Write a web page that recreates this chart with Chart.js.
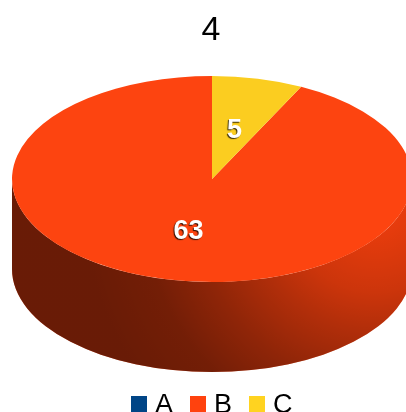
<!DOCTYPE html>
<html>
<head>
<meta charset="utf-8">
<title>4</title>
<script src="https://cdn.jsdelivr.net/npm/chart.js@4/dist/chart.umd.js"></script>
<style>
html, body { margin: 0; padding: 0; background: #fff; overflow: hidden; }
canvas { display: block; }
</style>
</head>
<body>
<canvas id="pie" width="406" height="412"></canvas>
<script>
const chartTitle = '4';
const categories = ['A', 'B', 'C'];
const values = [0, 63, 5];
const colors = ['#004586', '#ff420e', '#ffd320'];
const sliceColors = ['#004586', '#fd4410', '#fbcd20'];

const FONT = '"Liberation Sans", Arial, sans-serif';
// where the tilted disc sits on the page
const CX = 212, CY = 179, RX = 200, RY = 103, DEPTH = 90;

function tilt(ctx, arc) {
    ctx.translate(CX, CY);
    ctx.scale(RX / arc.outerRadius, RY / arc.outerRadius);
    ctx.translate(-arc.x, -arc.y);
}

const pie3d = {
    id: 'pie3d',
    // the wall under the disc, only the part of each slice facing us
    beforeDatasetDraw(chart) {
        const ctx = chart.ctx;
        chart.getDatasetMeta(0).data.forEach((arc, i) => {
            [0, Math.PI * 2].forEach(shift => {
                const s = Math.max(arc.startAngle, shift);
                const e = Math.min(arc.endAngle, Math.PI + shift);
                if (e <= s) return;
                ctx.beginPath();
                ctx.ellipse(CX, CY, RX, RY, 0, s, e);
                ctx.ellipse(CX, CY + DEPTH, RX, RY, 0, e, s, true);
                ctx.closePath();
                ctx.fillStyle = colors[i];
                ctx.fill();
                const shade = ctx.createRadialGradient(375, 205, 0, 375, 205, 290);
                shade.addColorStop(0, 'rgba(0,0,0,0.05)');
                shade.addColorStop(0.3, 'rgba(0,0,0,0.2)');
                shade.addColorStop(0.43, 'rgba(0,0,0,0.3)');
                shade.addColorStop(0.62, 'rgba(0,0,0,0.44)');
                shade.addColorStop(0.8, 'rgba(0,0,0,0.55)');
                shade.addColorStop(1, 'rgba(0,0,0,0.59)');
                ctx.fillStyle = shade;
                ctx.fill();
            });
        });
        ctx.save();
        tilt(ctx, chart.getDatasetMeta(0).data[0]);
    },
    afterDatasetDraw(chart) {
        chart.ctx.restore();
    },
    afterDraw(chart) {
        const ctx = chart.ctx;
        // value labels, the text itself stays unsquashed
        chart.getDatasetMeta(0).data.forEach((arc, i) => {
            if (!values[i]) return;
            const p = arc.getCenterPoint();
            const x = CX + (p.x - arc.x) * RX / arc.outerRadius;
            const y = CY + (p.y - arc.y) * RY / arc.outerRadius;
            ctx.save();
            ctx.font = 'bold 27px ' + FONT;
            ctx.textAlign = 'center';
            ctx.textBaseline = 'middle';
            ctx.fillStyle = '#fff';
            ctx.shadowColor = 'rgba(0,0,0,0.8)';
            ctx.shadowOffsetX = -1;
            ctx.shadowOffsetY = 1;
            ctx.shadowBlur = 1;
            ctx.fillText(values[i], x - 0.5, y + 2);
            ctx.restore();
        });
        // legend, sits right on the bottom edge like the original
        ctx.save();
        ctx.font = '27px ' + FONT;
        ctx.textBaseline = 'alphabetic';
        categories.forEach((name, i) => {
            const x = 131 + i * 59;
            ctx.fillStyle = colors[i];
            ctx.fillRect(x, 396, 16, 16);
            ctx.fillStyle = '#000';
            ctx.fillText(name, x + 24, 413);
        });
        ctx.restore();
    }
};

new Chart(document.getElementById('pie'), {
    type: 'pie',
    data: {
        labels: categories,
        datasets: [{
            data: values,
            backgroundColor: sliceColors,
            borderWidth: 0,
            clip: false
        }]
    },
    options: {
        responsive: false,
        animation: false,
        // turn the start so slice B ends at 12 o'clock
        rotation: (values[2] / (values[0] + values[1] + values[2])) * 360,
        layout: { padding: { left: 16 } },
        plugins: {
            legend: { display: false },
            tooltip: { enabled: false },
            title: {
                display: true,
                text: chartTitle,
                color: '#000',
                font: { family: FONT, size: 34, weight: 'normal' },
                padding: { top: 10, bottom: 10 }
            }
        }
    },
    plugins: [pie3d]
});
</script>
</body>
</html>
